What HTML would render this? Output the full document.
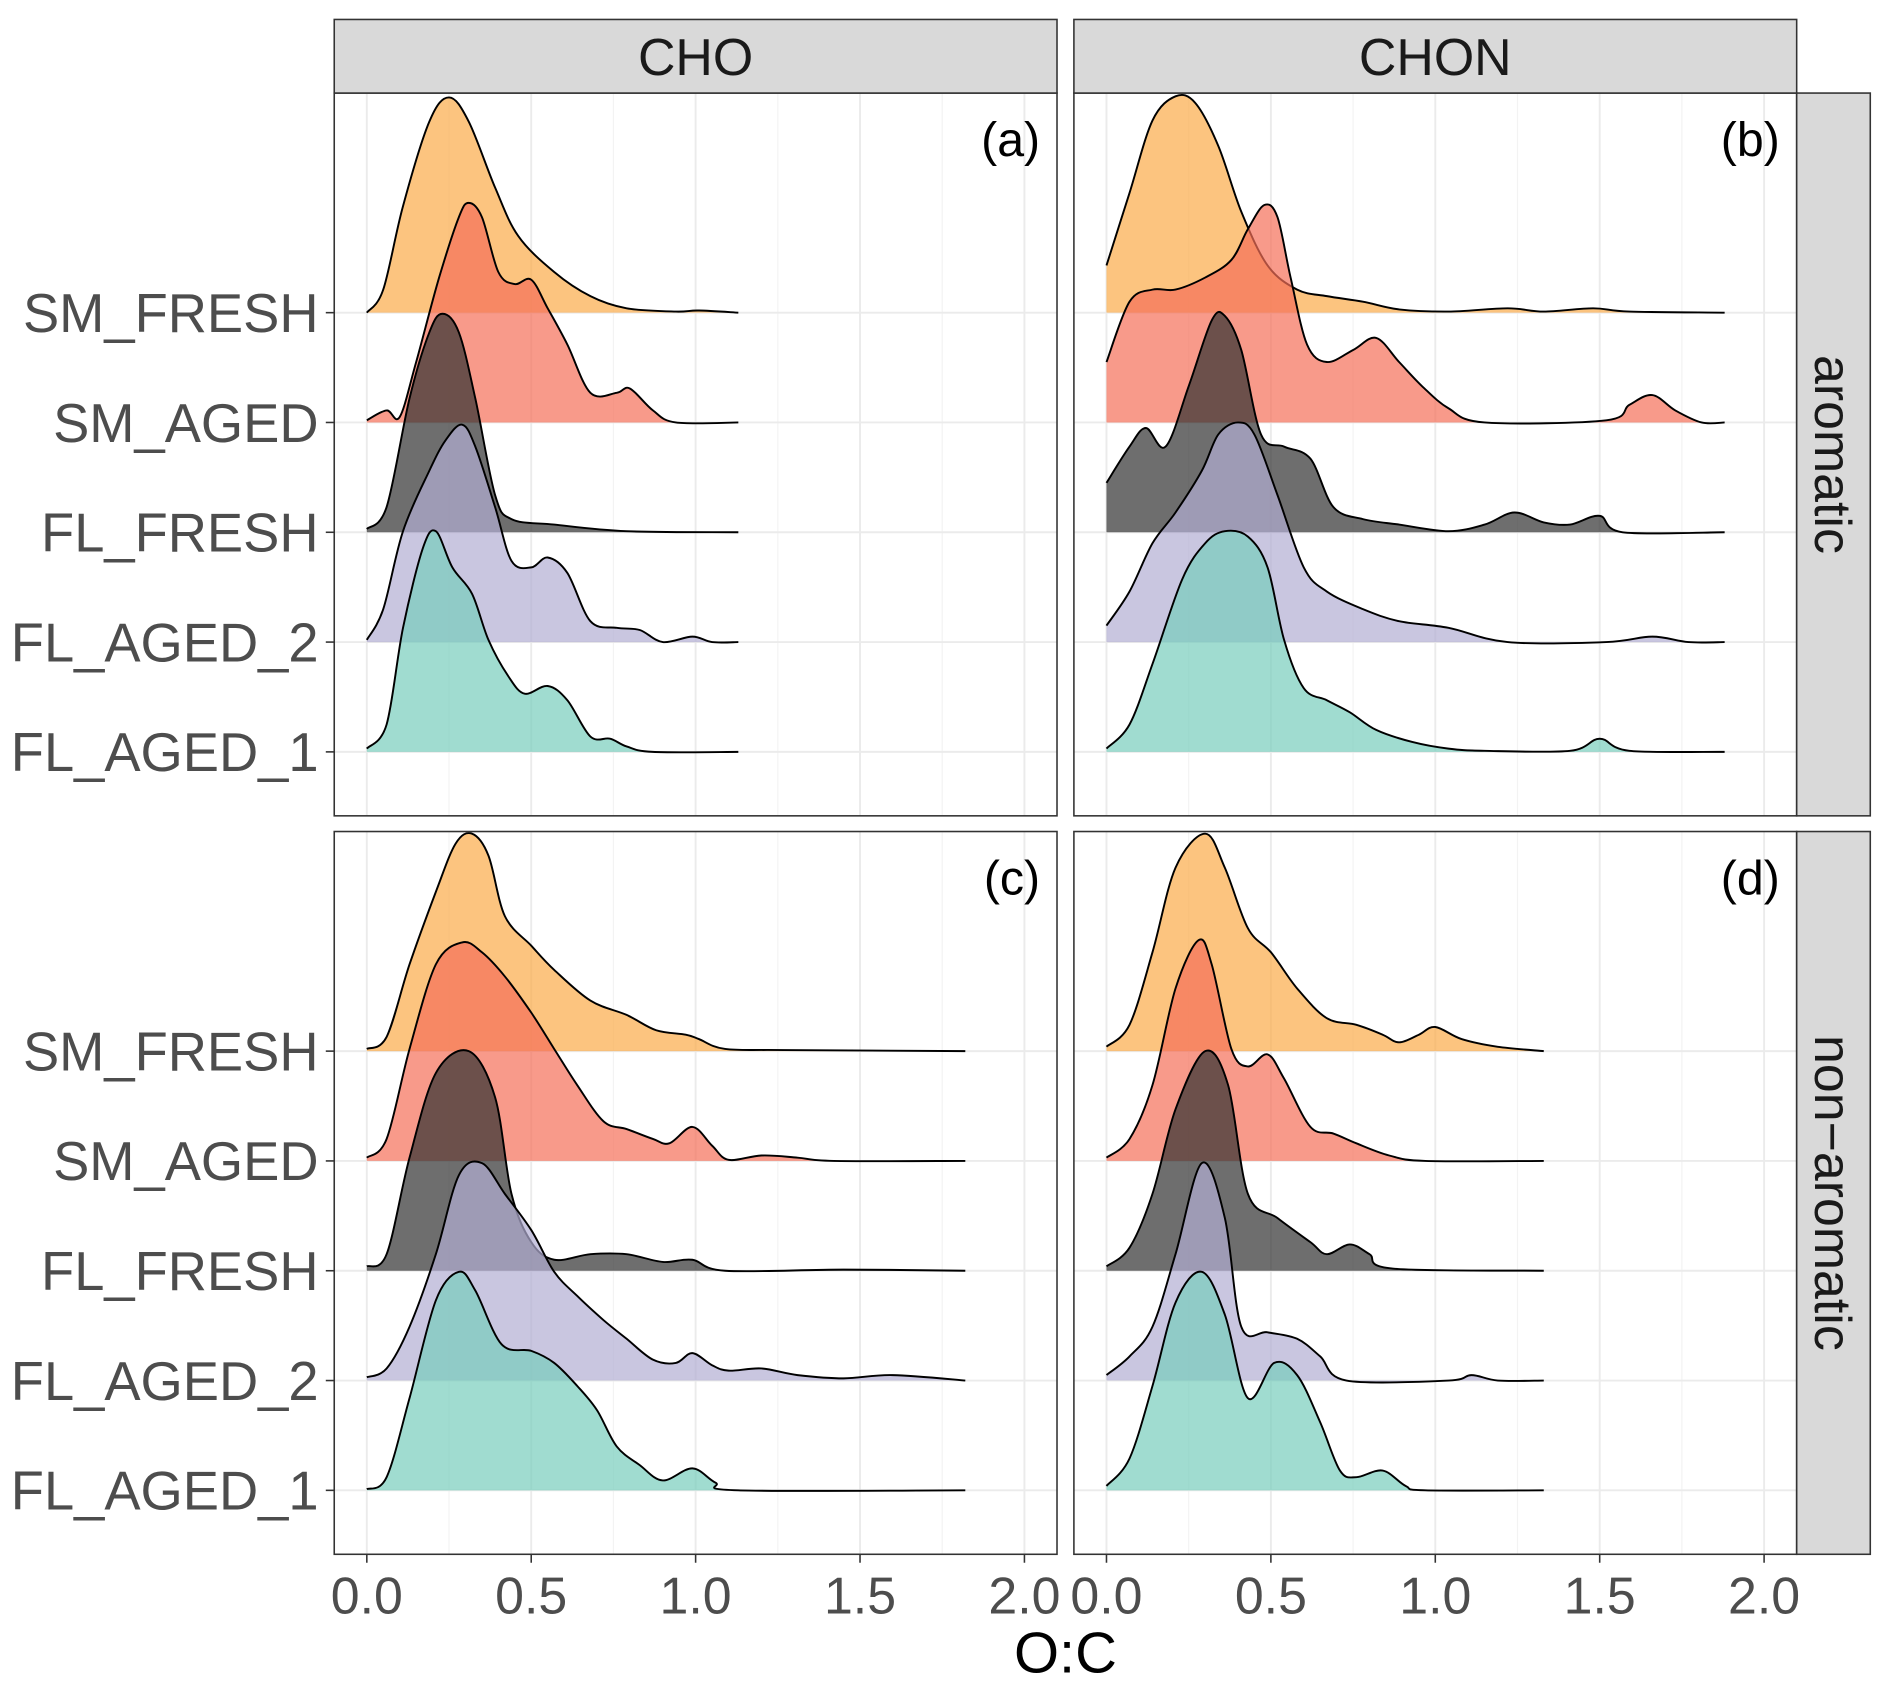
<!DOCTYPE html>
<html><head><meta charset="utf-8"><style>
html,body{margin:0;padding:0;background:#fff}
svg{display:block}
text{font-family:"Liberation Sans",Arial,sans-serif}
</style></head><body>
<svg id="chart" width="1892" height="1692" viewBox="0 0 1568 1402" xmlns="http://www.w3.org/2000/svg"></svg>
<script>
// ---- data (O:C values and ridge heights, in row units) ----
const categories = ["SM_FRESH","SM_AGED","FL_FRESH","FL_AGED_2","FL_AGED_1"];
const xTicks = [0,0.5,1,1.5,2];
const xTickLabels = ["0.0","0.5","1.0","1.5","2.0"];
const panelNames = ["a","b","c","d"];
const colTitles = ["CHO","CHON"];
const rowTitles = ["aromatic","non\u2212aromatic"];

const a_SM_FRESH_x=[0,0.05,0.11,0.19,0.25,0.31,0.39,0.46,0.57,0.68,0.79,0.94,1.01,1.13];
const a_SM_FRESH_h=[0,0.21,0.97,1.74,1.96,1.74,1.14,0.70,0.37,0.15,0.04,0.01,0.02,0];
const a_SM_AGED_x=[0,0.06,0.10,0.15,0.22,0.28,0.31,0.35,0.40,0.45,0.50,0.55,0.61,0.68,0.76,0.80,0.87,0.94,1.13];
const a_SM_AGED_h=[0.02,0.11,0.05,0.55,1.32,1.87,2.0,1.87,1.37,1.26,1.30,1.04,0.71,0.27,0.27,0.31,0.11,0,0];
const a_FL_FRESH_x=[0,0.06,0.13,0.19,0.23,0.28,0.33,0.39,0.44,0.57,0.79,1.13];
const a_FL_FRESH_h=[0.03,0.23,1.22,1.82,1.99,1.82,1.22,0.34,0.12,0.07,0.01,0];
const a_FL_AGED_2_x=[0,0.05,0.11,0.19,0.24,0.29,0.33,0.39,0.44,0.50,0.55,0.61,0.68,0.76,0.83,0.90,0.99,1.05,1.13];
const a_FL_AGED_2_h=[0.02,0.30,1.01,1.56,1.84,1.98,1.78,1.23,0.74,0.68,0.77,0.63,0.19,0.13,0.11,0,0.05,0,0];
const a_FL_AGED_1_x=[0,0.06,0.11,0.17,0.21,0.26,0.32,0.37,0.43,0.48,0.55,0.61,0.68,0.74,0.79,0.87,1.13];
const a_FL_AGED_1_h=[0.03,0.25,1.13,1.85,2.01,1.68,1.44,1.02,0.69,0.53,0.60,0.47,0.14,0.12,0.05,0,0];

const b_SM_FRESH_x=[0,0.07,0.14,0.21,0.27,0.34,0.41,0.49,0.58,0.67,0.78,0.89,1.04,1.22,1.33,1.48,1.59,1.88];
const b_SM_FRESH_h=[0.43,1.09,1.75,1.97,1.91,1.52,0.92,0.43,0.21,0.15,0.10,0.03,0.01,0.04,0.01,0.04,0.01,0];
const b_SM_AGED_x=[0,0.07,0.14,0.21,0.30,0.38,0.43,0.48,0.52,0.56,0.61,0.67,0.75,0.82,0.89,0.96,1.04,1.15,1.52,1.59,1.66,1.73,1.81,1.88];
const b_SM_AGED_h=[0.55,1.10,1.21,1.21,1.32,1.48,1.76,1.98,1.87,1.32,0.71,0.55,0.66,0.77,0.55,0.33,0.13,0,0.02,0.16,0.25,0.11,0,0];
const b_FL_FRESH_x=[0,0.07,0.12,0.18,0.25,0.32,0.36,0.41,0.47,0.54,0.62,0.69,0.78,0.89,1.04,1.15,1.24,1.33,1.41,1.50,1.57,1.88];
const b_FL_FRESH_h=[0.45,0.78,0.95,0.78,1.33,1.93,1.97,1.66,0.89,0.78,0.67,0.23,0.12,0.07,0.01,0.07,0.18,0.09,0.07,0.15,0,0];
const b_FL_AGED_2_x=[0,0.07,0.14,0.21,0.29,0.34,0.40,0.45,0.52,0.60,0.67,0.78,0.89,1.04,1.22,1.52,1.66,1.77,1.88];
const b_FL_AGED_2_h=[0.15,0.46,0.90,1.18,1.56,1.89,2.0,1.89,1.34,0.68,0.46,0.30,0.19,0.13,0,0,0.05,0,0];
const b_FL_AGED_1_x=[0,0.07,0.14,0.23,0.30,0.36,0.43,0.49,0.54,0.60,0.67,0.74,0.82,0.93,1.04,1.15,1.41,1.50,1.59,1.88];
const b_FL_AGED_1_h=[0.03,0.25,0.80,1.57,1.90,2.01,1.96,1.68,1.02,0.58,0.47,0.36,0.20,0.09,0.03,0.01,0.01,0.12,0.01,0];

const c_SM_FRESH_x=[0,0.06,0.13,0.21,0.27,0.32,0.37,0.42,0.50,0.57,0.68,0.79,0.88,0.97,1.01,1.09,1.27,1.82];
const c_SM_FRESH_h=[0.02,0.13,0.79,1.45,1.89,1.98,1.78,1.23,0.96,0.74,0.46,0.33,0.19,0.15,0.11,0.02,0.01,0];
const c_SM_AGED_x=[0,0.06,0.13,0.21,0.29,0.35,0.42,0.50,0.57,0.64,0.72,0.79,0.87,0.92,0.99,1.05,1.10,1.20,1.31,1.42,1.82];
const c_SM_AGED_h=[0.03,0.20,1.02,1.79,1.99,1.90,1.68,1.35,1.02,0.69,0.36,0.29,0.20,0.16,0.31,0.14,0.01,0.05,0.03,0,0];
const c_FL_FRESH_x=[0,0.06,0.13,0.21,0.31,0.39,0.44,0.50,0.57,0.68,0.79,0.90,0.99,1.09,1.45,1.82];
const c_FL_FRESH_h=[0.04,0.15,1.03,1.80,2.0,1.58,0.70,0.26,0.10,0.15,0.15,0.08,0.10,0,0.01,0];
const c_FL_AGED_2_x=[0,0.06,0.13,0.21,0.28,0.35,0.42,0.50,0.57,0.64,0.72,0.79,0.87,0.94,0.99,1.05,1.10,1.20,1.31,1.45,1.60,1.82];
const c_FL_AGED_2_h=[0.03,0.11,0.49,1.15,1.87,1.98,1.70,1.37,0.99,0.77,0.55,0.38,0.19,0.16,0.25,0.14,0.09,0.11,0.05,0.02,0.05,0];
const c_FL_AGED_1_x=[0,0.06,0.13,0.21,0.28,0.33,0.41,0.50,0.57,0.64,0.70,0.76,0.83,0.90,0.99,1.06,1.13,1.82];
const c_FL_AGED_1_h=[0.01,0.12,0.84,1.73,1.99,1.82,1.33,1.27,1.16,0.95,0.73,0.40,0.23,0.09,0.20,0.07,0,0];

const d_SM_FRESH_x=[0,0.07,0.14,0.21,0.30,0.36,0.43,0.50,0.58,0.67,0.76,0.84,0.89,0.95,1.00,1.08,1.19,1.33];
const d_SM_FRESH_h=[0.04,0.24,0.90,1.67,1.98,1.67,1.12,0.90,0.57,0.30,0.24,0.15,0.08,0.15,0.22,0.11,0.04,0];
const d_SM_AGED_x=[0,0.07,0.14,0.21,0.28,0.32,0.38,0.43,0.49,0.54,0.62,0.69,0.76,0.86,0.97,1.33];
const d_SM_AGED_h=[0.03,0.20,0.69,1.57,2.01,1.79,1.02,0.86,0.97,0.75,0.31,0.25,0.16,0.05,0,0];
const d_FL_FRESH_x=[0,0.07,0.14,0.21,0.30,0.37,0.43,0.52,0.62,0.67,0.74,0.80,0.87,1.33];
const d_FL_FRESH_h=[0.04,0.21,0.70,1.47,2.0,1.69,0.70,0.48,0.26,0.15,0.24,0.15,0.02,0];
const d_FL_AGED_2_x=[0,0.07,0.14,0.21,0.29,0.36,0.41,0.49,0.58,0.65,0.73,1.04,1.11,1.19,1.33];
const d_FL_AGED_2_h=[0.05,0.22,0.49,1.15,1.98,1.48,0.49,0.44,0.38,0.22,0,0,0.05,0,0];
const d_FL_AGED_1_x=[0,0.07,0.14,0.21,0.29,0.36,0.43,0.51,0.58,0.65,0.71,0.76,0.84,0.91,0.97,1.33];
const d_FL_AGED_1_h=[0.04,0.29,0.95,1.71,1.99,1.60,0.84,1.16,1.05,0.62,0.18,0.12,0.18,0.04,0,0];

const seriesData = {
 a:[[a_SM_FRESH_x,a_SM_FRESH_h],[a_SM_AGED_x,a_SM_AGED_h],[a_FL_FRESH_x,a_FL_FRESH_h],[a_FL_AGED_2_x,a_FL_AGED_2_h],[a_FL_AGED_1_x,a_FL_AGED_1_h]],
 b:[[b_SM_FRESH_x,b_SM_FRESH_h],[b_SM_AGED_x,b_SM_AGED_h],[b_FL_FRESH_x,b_FL_FRESH_h],[b_FL_AGED_2_x,b_FL_AGED_2_h],[b_FL_AGED_1_x,b_FL_AGED_1_h]],
 c:[[c_SM_FRESH_x,c_SM_FRESH_h],[c_SM_AGED_x,c_SM_AGED_h],[c_FL_FRESH_x,c_FL_FRESH_h],[c_FL_AGED_2_x,c_FL_AGED_2_h],[c_FL_AGED_1_x,c_FL_AGED_1_h]],
 d:[[d_SM_FRESH_x,d_SM_FRESH_h],[d_SM_AGED_x,d_SM_AGED_h],[d_FL_FRESH_x,d_FL_FRESH_h],[d_FL_AGED_2_x,d_FL_AGED_2_h],[d_FL_AGED_1_x,d_FL_AGED_1_h]]
};

// ---- layout ----
const NS="http://www.w3.org/2000/svg";
const svg=document.getElementById('chart');
const fills=["rgba(251,171,72,0.7)","rgba(245,111,88,0.7)","rgba(48,48,48,0.7)","rgba(178,174,211,0.7)","rgba(119,205,188,0.7)"];
const colX=[277,890], panelW=599, rowY=[77,689], panelH=599;
const rowStep=91, firstBaseOffset=182;
function mk(tag,attrs,parent){const e=document.createElementNS(NS,tag);for(const k in attrs)e.setAttribute(k,attrs[k]);(parent||svg).appendChild(e);return e;}
function xScale(col,v){return colX[col]+27+v*272.5;}
function yBase(row,i){return rowY[row]+firstBaseOffset+i*rowStep;}
function yScale(row,i,h){return yBase(row,i)-h*rowStep;}
function curve(pts){
  let d="M"+pts[0][0]+","+pts[0][1];
  for(let i=0;i<pts.length-1;i++){
    const p0=pts[Math.max(0,i-1)],p1=pts[i],p2=pts[i+1],p3=pts[Math.min(pts.length-1,i+2)];
    const c1x=p1[0]+(p2[0]-p0[0])/6,c1y=p1[1]+(p2[1]-p0[1])/6;
    const c2x=p2[0]-(p3[0]-p1[0])/6,c2y=p2[1]-(p3[1]-p1[1])/6;
    d+=` C${c1x.toFixed(1)},${c1y.toFixed(1)} ${c2x.toFixed(1)},${c2y.toFixed(1)} ${p2[0].toFixed(1)},${p2[1].toFixed(1)}`;
  }
  return d;
}

for(let r=0;r<2;r++)for(let c=0;c<2;c++){
  const key=panelNames[r*2+c];
  const g=mk('g',{});
  
  
  const bg=mk('rect',{x:colX[c],y:rowY[r],width:panelW,height:panelH,fill:'#fff'},g);
  
  
  for(let v=0.25;v<2.2;v+=0.5){const gl=mk('line',{x1:xScale(c,v),x2:xScale(c,v),y1:rowY[r],y2:rowY[r]+panelH,stroke:'#f3f3f3','stroke-width':1},g);
    }
  xTicks.forEach(v=>{const gl=mk('line',{x1:xScale(c,v),x2:xScale(c,v),y1:rowY[r],y2:rowY[r]+panelH,stroke:'#ebebeb','stroke-width':1.6},g);
    });
  categories.forEach((cat,i)=>{const gl=mk('line',{x1:colX[c],x2:colX[c]+panelW,y1:yBase(r,i),y2:yBase(r,i),stroke:'#ebebeb','stroke-width':1.6},g);
    });
  seriesData[key].forEach((s,i)=>{
    const pts=s[0].map((x,j)=>[xScale(c,x),yScale(r,i,s[1][j])]);
    const line=curve(pts);
    const area=mk('path',{d:line+` L${pts[pts.length-1][0]},${yBase(r,i)} L${pts[0][0]},${yBase(r,i)} Z`,fill:fills[i],stroke:'none'},g);
    
    
    const ln=mk('path',{d:line,fill:'none',stroke:'#000','stroke-width':1.6},g);
    
    
  });
  const br=mk('rect',{x:colX[c],y:rowY[r],width:panelW,height:panelH,fill:'none',stroke:'#333','stroke-width':1.3},g);
  
  const lab=mk('text',{x:colX[c]+panelW-14,y:rowY[r]+52,'font-size':40,'text-anchor':'end',fill:'#000'},g);
  lab.textContent='('+key+')';
  
  if(c===0){categories.forEach((cat,i)=>{
    const t=mk('text',{x:264,y:yBase(r,i)+16,'font-size':45,'text-anchor':'end',fill:'#4d4d4d'},g);
    t.textContent=cat;
    const tk=mk('line',{x1:270,x2:277,y1:yBase(r,i),y2:yBase(r,i),stroke:'#333','stroke-width':1.3},g);
    
  });}
  if(r===1){xTicks.forEach((v,k)=>{
    const tk=mk('line',{x1:xScale(c,v),x2:xScale(c,v),y1:rowY[r]+panelH,y2:rowY[r]+panelH+7,stroke:'#333','stroke-width':1.3},g);
    
    const t=mk('text',{x:xScale(c,v),y:1337,'font-size':43,'text-anchor':'middle',fill:'#4d4d4d'},g);
    t.textContent=xTickLabels[k];
  });}
}
colTitles.forEach((t,c)=>{
  const s=mk('rect',{x:colX[c],y:16,width:panelW,height:61,fill:'#d9d9d9',stroke:'#333','stroke-width':1.3});
  
  const tx=mk('text',{x:colX[c]+panelW/2,y:62,'font-size':43,'text-anchor':'middle',fill:'#1a1a1a'});
  tx.textContent=t;
});
rowTitles.forEach((t,r)=>{
  const s=mk('rect',{x:1489,y:rowY[r],width:61,height:panelH,fill:'#d9d9d9',stroke:'#333','stroke-width':1.3});
  
  const cy=rowY[r]+panelH/2;
  const tx=mk('text',{x:1519,y:cy,'font-size':43,'text-anchor':'middle',fill:'#1a1a1a',transform:`rotate(90 1519 ${cy}) translate(0 15)`});
  tx.textContent=t;
});
const xt=mk('text',{x:883,y:1386,'font-size':48,'text-anchor':'middle',fill:'#000'});
xt.textContent='O:C';


</script>
</body></html>
